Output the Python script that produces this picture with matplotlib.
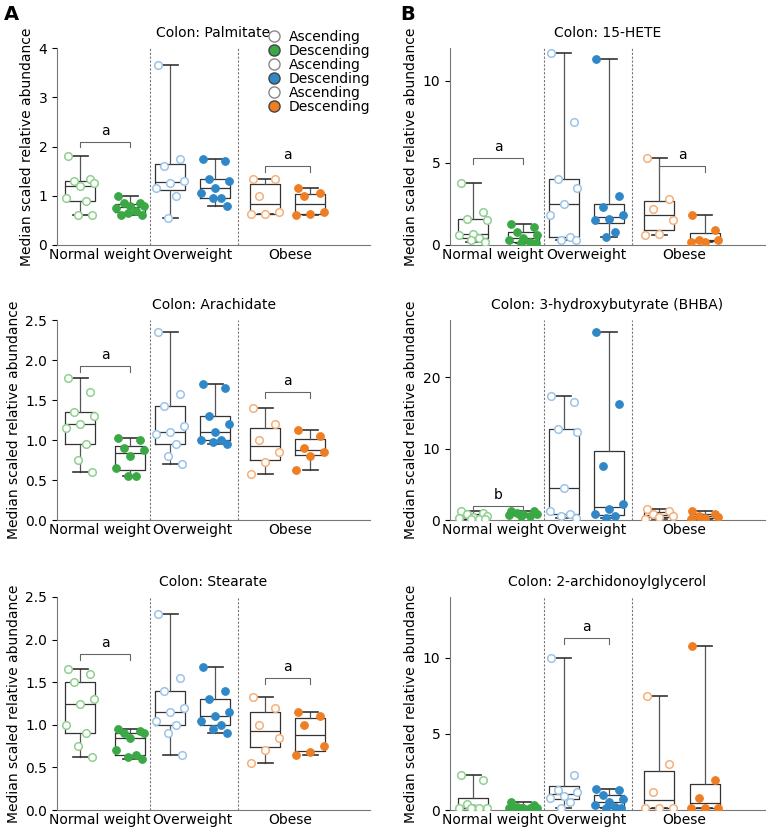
import matplotlib
matplotlib.use("Agg")
import matplotlib.pyplot as plt
import numpy as np
from matplotlib.lines import Line2D

groups = ["Normal weight", "Overweight", "Obese"]
titles = ["Colon: Palmitate", "Colon: 15-HETE", "Colon: Arachidate",
          "Colon: 3-hydroxybutyrate (BHBA)", "Colon: Stearate", "Colon: 2-archidonoylglycerol"]

palmitate = [[1.8,1.35,1.3,1.25,1.2,0.95,0.9,0.6,0.6],
             [1.0,0.85,0.85,0.8,0.8,0.75,0.7,0.65,0.6,0.6],
             [3.65,1.75,1.6,1.3,1.25,1.15,1.0,0.55],
             [1.75,1.7,1.35,1.3,1.15,1.05,0.95,0.95,0.8],
             [1.33,1.33,1.0,0.68,0.62,0.62],
             [1.15,1.05,1.0,0.68,0.62,0.6]]
hete = [[3.8,2.0,1.6,1.5,0.7,0.6,0.4,0.3,0.2],
        [1.3,1.1,0.8,0.6,0.4,0.3,0.2,0.1,0.1],
        [11.7,7.5,4.0,3.5,2.5,1.8,0.5,0.3,0.3],
        [11.3,3.0,2.3,1.8,1.6,1.5,0.8,0.5],
        [5.3,2.8,2.2,1.5,0.7,0.6],
        [1.8,0.9,0.3,0.3,0.2,0.2]]
arachidate = [[1.77,1.6,1.35,1.3,1.2,1.15,0.95,0.75,0.6],
              [1.03,1.0,0.9,0.88,0.8,0.65,0.55,0.55],
              [2.35,1.58,1.42,1.18,1.1,1.08,0.95,0.8,0.7],
              [1.7,1.65,1.3,1.2,1.1,1.0,1.0,0.98,0.95],
              [1.4,1.2,1.0,0.85,0.72,0.57],
              [1.12,1.05,0.9,0.85,0.8,0.62]]
bhba = [[1.2,1.0,0.8,0.6,0.4,0.3,0.2,0.1,0.1],
        [1.3,1.2,1.0,0.9,0.8,0.7,0.6,0.5],
        [17.3,16.5,12.8,12.3,4.5,1.2,0.8,0.5,0.3],
        [26.3,16.3,7.5,2.2,1.5,0.8,0.5,0.3],
        [1.5,1.2,0.9,0.6,0.4,0.2],
        [1.2,0.9,0.6,0.4,0.3,0.2]]
stearate = [[1.65,1.6,1.5,1.3,1.25,1.0,0.9,0.75,0.62],
            [0.95,0.93,0.9,0.9,0.85,0.7,0.65,0.62,0.6],
            [2.3,1.55,1.4,1.2,1.15,1.05,1.0,0.9,0.65],
            [1.68,1.4,1.3,1.15,1.1,1.05,1.0,0.95,0.9],
            [1.33,1.2,1.0,0.85,0.7,0.55],
            [1.15,1.1,1.0,0.75,0.68,0.65]]
ag2 = [[2.3,2.0,0.4,0.1,0.1,0.1,0.1,0.1],
       [0.5,0.35,0.2,0.1,0.1,0.1,0.1,0.1,0.1],
       [10.0,2.3,1.3,1.2,0.9,0.8,0.5,0.1],
       [1.4,1.3,1.0,0.7,0.5,0.3,0.2,0.1,0.1],
       [7.5,3.0,1.2,0.1,0.1,0.1],
       [10.8,2.0,0.8,0.1,0.1,0.1]]
datasets = [palmitate, hete, arachidate, bhba, stearate, ag2]
ylims = [(0,4),(0,12),(0,2.5),(0,28),(0,2.5),(0,14)]
yticks = [[0,1,2,3,4],[0,5,10],[0,0.5,1.0,1.5,2.0,2.5],[0,10,20],[0,0.5,1.0,1.5,2.0,2.5],[0,5,10]]
yfmt = ["%d","%d","%.1f","%d","%.1f","%d"]
annots = [[(0,2.1,"a"),(2,1.6,"a")],
          [(0,5.3,"a"),(2,4.8,"a")],
          [(0,1.92,"a"),(2,1.6,"a")],
          [(0,1.9,"b")],
          [(0,1.83,"a"),(2,1.55,"a")],
          [(1,11.3,"a")]]

cols = ["#3aa845","#3aa845","#2f87c7","#2f87c7","#ef7d22","#ef7d22"]
light = ["#8fd08f","#3aa845","#9cc4e8","#2f87c7","#f5b07a","#ef7d22"]
jit = np.array([-0.25,0.2,-0.12,0.27,0.0,-0.28,0.12,-0.05,0.24,-0.18])

plt.rcParams['font.family'] = ['DejaVu Sans']
fig = plt.figure(figsize=(7.69,8.34), dpi=100)
W,H = 769,834
boxes = [(57,48,313,197),(450,48,315,197),(57,320,313,200),(450,320,315,200),(57,597,313,213),(450,597,315,213)]
pos = [0.46,1.46,2.26,3.16,4.16,5.06]
for i,(x,y,w,h) in enumerate(boxes):
    ax = fig.add_axes([x/W, 1-(y+h)/H, w/W, h/H])
    d = datasets[i]
    ax.boxplot(d, positions=pos, widths=0.6, whis=(0,100), showfliers=False,
               boxprops=dict(color="#333333",lw=0.9), whiskerprops=dict(color="#555555",lw=0.9),
               capprops=dict(color="#333333",lw=1.2), medianprops=dict(color="#333333",lw=0.9))
    for k,vals in enumerate(d):
        xs = pos[k] + jit[:len(vals)]
        if k % 2 == 0:
            ax.scatter(xs, vals, s=30, facecolor="white", edgecolor=light[k], lw=1.1, zorder=3)
        else:
            ax.scatter(xs, vals, s=30, facecolor=cols[k], edgecolor=cols[k], lw=0.8, zorder=3)
    for xv in [1.86,3.62]:
        ax.axvline(xv, color="#777777", lw=0.8, ls=(0,(2,1.5)), zorder=0)
    ax.set_xlim(0,6.26)
    ax.set_ylim(*ylims[i])
    ax.set_yticks(yticks[i])
    ax.set_yticklabels([yfmt[i] % t for t in yticks[i]], fontsize=10)
    ax.set_xticks([0.86,2.71,4.66])
    ax.set_xticklabels(groups, fontsize=10)
    ax.tick_params(axis="x", length=0, pad=2)
    for s in ["top","right"]:
        ax.spines[s].set_visible(False)
    for s in ["left","bottom"]:
        ax.spines[s].set_color("#777777")
    ax.set_ylabel("Median scaled relative abundance", fontsize=10, labelpad=3)
    ax.set_title(titles[i], fontsize=10, pad=8)
    yr = ylims[i][1]
    for (p,hgt,lt) in annots[i]:
        x0,x1 = pos[2*p], pos[2*p+1]
        ax.plot([x0,x0,x1,x1],[hgt-0.03*yr,hgt,hgt,hgt-0.03*yr], color="#666666", lw=0.8)
        ax.text((x0+x1)/2, hgt+0.02*yr, lt, ha="center", va="bottom", fontsize=10)
    if i == 0:
        hs = []
        for k in range(6):
            if k % 2 == 0:
                hs.append(Line2D([],[],marker="o",ls="",ms=8,mfc="white",mec="#888888"))
            else:
                hs.append(Line2D([],[],marker="o",ls="",ms=8,mfc=cols[k],mec="#444444"))
        ax.legend(hs, ["Ascending","Descending"]*3, loc="upper right", bbox_to_anchor=(1.02,1.12),
                  frameon=False, fontsize=10, handletextpad=0.1, labelspacing=0.0, borderaxespad=0)

fig.text(4/W, 1-14/H, "A", fontsize=14, fontweight="bold", va="center")
fig.text(400/W, 1-14/H, "B", fontsize=14, fontweight="bold", va="center")
fig.savefig("out.png", dpi=100)
